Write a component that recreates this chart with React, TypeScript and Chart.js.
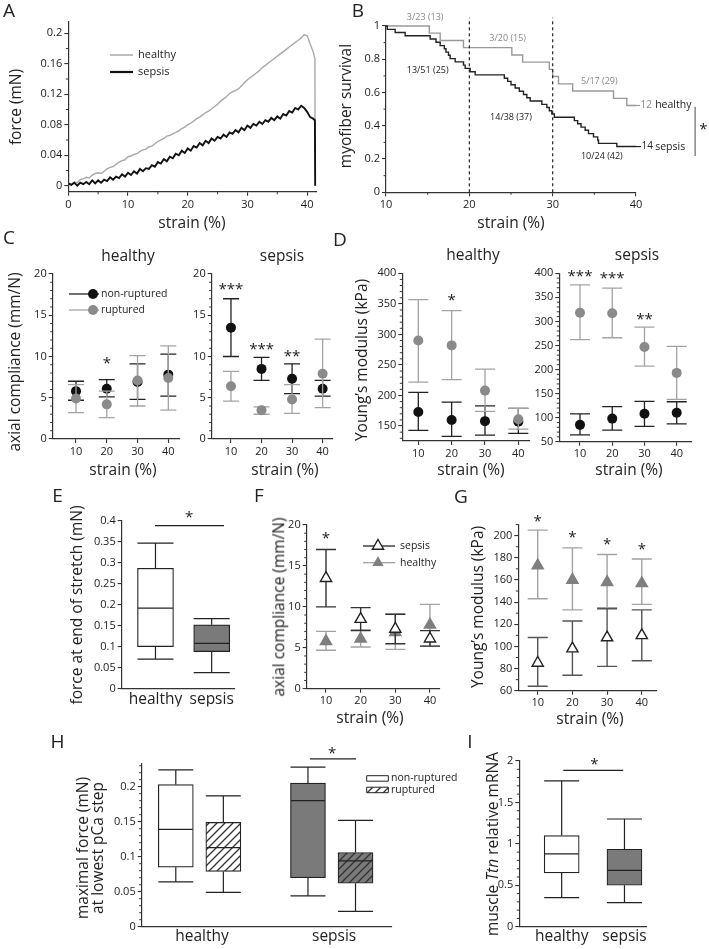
import React, { useEffect, useRef } from 'react';
import { Chart, registerables } from 'chart.js';
Chart.register(...registerables);

const W = 709, H = 949;
const FONT = '"Open Sans", "Noto Sans", sans-serif';
const INK = '#222';
const AXIS = '#333';
const YW = 40, XH = 18;

// ---------------- Panel A: force vs strain ----------------
const strainA = [0,0.5,1,1.5,2,2.5,3,3.5,4,4.5,5,5.5,6,6.5,7,7.5,8,8.5,9,9.5,10,10.5,11,11.5,12,12.5,13,13.5,14,14.5,15,15.5,16,16.5,17,17.5,18,18.5,19,19.5,20,20.5,21,21.5,22,22.5,23,23.5,24,24.5,25,25.5,26,26.5,27,27.5,28,28.5,29,29.5,30,30.5,31,31.5,32,32.5,33,33.5,34,34.5,35,35.5,36,36.5,37,37.5,38,38.5,39,39.5,40,40.5,41,41.3,41.35];
const forceHealthyA = [.003,.002,.005,.004,.008,.009,.011,.010,.014,.016,.017,.016,.019,.022,.024,.025,.028,.031,.033,.034,.038,.039,.041,.042,.045,.047,.048,.051,.052,.055,.058,.060,.062,.065,.066,.068,.070,.072,.075,.077,.080,.082,.085,.088,.090,.093,.096,.098,.101,.104,.107,.111,.114,.117,.121,.123,.125,.127,.131,.135,.139,.142,.145,.148,.151,.155,.158,.161,.164,.167,.170,.173,.176,.179,.182,.185,.188,.191,.194,.198,.197,.186,.176,.167,0];
const forceSepsisA = [.003,.001,.004,.000,.004,.002,.005,.002,.007,.003,.007,.004,.008,.006,.011,.008,.012,.010,.015,.012,.017,.014,.019,.016,.022,.019,.023,.022,.027,.025,.031,.029,.035,.032,.038,.036,.042,.040,.046,.043,.049,.046,.052,.050,.056,.053,.059,.056,.062,.059,.064,.062,.067,.064,.070,.068,.073,.070,.076,.073,.079,.076,.081,.079,.084,.081,.086,.084,.089,.086,.091,.088,.094,.092,.098,.096,.102,.100,.105,.102,.097,.090,.088,.086,0];
const yTicksA = [0, 0.04, 0.08, 0.12, 0.16, 0.2];

// ---------------- Panel B: survival ----------------
const healthyStrainB = [10, 15.2, 16.5, 19.3, 25.1, 26.4, 29.6, 30.0, 30.7, 32.4, 37.3, 38.9, 40];
const healthySurvB = [1, 0.957, 0.913, 0.870, 0.826, 0.783, 0.739, 0.696, 0.652, 0.609, 0.565, 0.522, 0.522];
const sepsisStrainB = [10, 10.15, 11.1, 12.3, 15.3, 16.0, 16.5, 17.0, 17.2, 17.5, 17.7, 18.3, 19.3, 19.5, 20.1, 20.7, 24.2, 24.6, 25.0, 25.5, 26.0, 26.5, 26.9, 27.3, 28.7, 29.3, 29.6, 29.9, 30.2, 32.6, 33.0, 33.4, 33.9, 34.3, 34.9, 35.4, 35.5, 37.7, 40];
const sepsisSurvB = [1, .980, .961, .941, .922, .902, .882, .863, .843, .824, .804, .784, .765, .745, .725, .706, .686, .667, .647, .627, .608, .588, .569, .549, .529, .510, .490, .471, .451, .431, .412, .392, .373, .353, .333, .314, .294, .275, .275];

// ---------------- Panels C/F: axial compliance ----------------
const strainCats = [10, 20, 30, 40];
const cHealthyNonRupt = [5.8, 6.1, 6.9, 7.8];
const cHealthyNonRuptLo = [4.7, 5.1, 4.8, 5.2];
const cHealthyNonRuptHi = [7.0, 7.2, 9.1, 10.3];
const cHealthyRupt = [4.9, 4.2, 7.1, 7.4];
const cHealthyRuptLo = [3.2, 2.6, 4.0, 3.5];
const cHealthyRuptHi = [6.6, 5.8, 10.1, 11.3];
const cSepsisNonRupt = [13.5, 8.5, 7.3, 6.1];
const cSepsisNonRuptLo = [10.0, 7.1, 5.5, 5.2];
const cSepsisNonRuptHi = [17.0, 9.9, 9.1, 7.1];
const cSepsisRupt = [6.4, 3.5, 4.8, 7.9];
const cSepsisRuptLo = [4.6, 3.0, 3.1, 3.8];
const cSepsisRuptHi = [8.2, 3.9, 6.6, 12.1];

// ---------------- Panels D/G: Young's modulus ----------------
const dHealthyNonRupt = [173, 160, 158, 157];
const dHealthyNonRuptLo = [143, 133, 135, 138];
const dHealthyNonRuptHi = [205, 189, 183, 179];
const dHealthyRupt = [290, 282, 208, 161];
const dHealthyRuptLo = [222, 226, 174, 145];
const dHealthyRuptHi = [357, 339, 243, 179];
const dSepsisNonRupt = [85, 98, 108, 110];
const dSepsisNonRuptLo = [64, 74, 82, 87];
const dSepsisNonRuptHi = [108, 123, 134, 133];
const dSepsisRupt = [318, 317, 247, 193];
const dSepsisRuptLo = [262, 266, 207, 138];
const dSepsisRuptHi = [376, 369, 288, 248];

// ---------------- Panel E: force at end of stretch (box) ----------------
const groupsE = ['healthy', 'sepsis'];
const eLow = [0.070, 0.038];
const eQ1 = [0.100, 0.088];
const eMed = [0.192, 0.108];
const eQ3 = [0.287, 0.152];
const eHigh = [0.347, 0.167];

// ---------------- Panel H: maximal force (box) ----------------
const groupsH = ['healthy', 'sepsis'];
const hLow = [0.064, 0.049, 0.044, 0.022];
const hQ1 = [0.085, 0.079, 0.070, 0.062];
const hMed = [0.139, 0.113, 0.180, 0.094];
const hQ3 = [0.203, 0.149, 0.205, 0.106];
const hHigh = [0.224, 0.187, 0.228, 0.152];

// ---------------- Panel I: Ttn mRNA (box) ----------------
const groupsI = ['healthy', 'sepsis'];
const iLow = [0.35, 0.29];
const iQ1 = [0.65, 0.50];
const iMed = [0.88, 0.68];
const iQ3 = [1.10, 0.935];
const iHigh = [1.76, 1.30];

// layout positions (not data)
const posE = [1, 2];
const posH = [1, 2, 3.78, 4.78];
const posI = [1, 2];

type Area = { x0: number; y0: number; x1: number; y1: number };
type Note = { x: number; y: number; text: string; color?: string; size?: number; align?: CanvasTextAlign; px?: boolean; dy?: number };
type Seg = { x1: number; y1: number; x2: number; y2: number; color?: string; width?: number; dash?: number[]; px?: boolean };
type Mark = { x: number; y: number; shape: 'circle' | 'triangle' | 'rect'; r?: number; w?: number; h?: number; fill?: any; stroke?: string; lw?: number; px?: boolean };
type Extras = { minorX?: number[]; minorY?: number[]; segs?: Seg[]; marks?: Mark[]; notes?: Note[] };

const pts = (xs: number[], ys: number[]) => xs.map((x, i) => ({ x, y: ys[i] }));
const steps = (a: number, b: number, s: number, skip: number[]) => {
  const out: number[] = [];
  for (let k = 0; a + k * s <= b + 1e-9; k++) {
    const v = Math.round((a + k * s) * 1e6) / 1e6;
    if (!skip.some((q) => Math.abs(q - v) < 1e-9)) out.push(v);
  }
  return out;
};
const fmt = (v: number) => String(Number(v.toFixed(4)));

function mkScale(axis: 'x' | 'y', min: number, max: number, ticks: number[], o: any = {}) {
  const labels: string[] | undefined = o.labels;
  return {
    type: 'linear', min, max, offset: false,
    afterBuildTicks: (s: any) => { s.ticks = ticks.map((v) => ({ value: v })); },
    afterFit: (s: any) => { if (axis === 'x') s.height = XH; else s.width = YW; },
    ticks: {
      autoSkip: false, maxRotation: 0, minRotation: 0,
      font: { family: FONT, size: o.size ?? 11 }, color: INK,
      padding: o.pad ?? 2,
      callback: (v: number) => {
        if (labels) { const i = ticks.findIndex((t) => Math.abs(t - v) < 1e-9); return i >= 0 ? labels[i] : ''; }
        return fmt(v);
      },
    },
    grid: { display: true, offset: false, drawOnChartArea: false, drawTicks: o.drawTicks ?? true, tickLength: 4, tickColor: AXIS, tickWidth: 1.1, color: AXIS, lineWidth: 1.1 },
    border: { display: true, color: AXIS, width: 1.2 },
  };
}

function extrasPlugin(ex: Extras) {
  return {
    id: 'extras',
    beforeDatasetDraw(chart: any, args: any) {
      const ds = chart.data.datasets[args.index];
      if (!ds.errLow) return;
      const meta = chart.getDatasetMeta(args.index);
      const ys = chart.scales.y, ctx = chart.ctx;
      ctx.save();
      ctx.strokeStyle = ds.errColor; ctx.lineWidth = ds.errWidth ?? 1.3;
      meta.data.forEach((p: any, i: number) => {
        const x = p.x, lo = ys.getPixelForValue(ds.errLow[i]), hi = ys.getPixelForValue(ds.errHigh[i]), c = ds.capHalf;
        ctx.beginPath();
        ctx.moveTo(x, lo); ctx.lineTo(x, hi);
        ctx.moveTo(x - c, lo); ctx.lineTo(x + c, lo);
        ctx.moveTo(x - c, hi); ctx.lineTo(x + c, hi);
        ctx.stroke();
      });
      ctx.restore();
    },
    afterDatasetDraw(chart: any, args: any) {
      const ds = chart.data.datasets[args.index];
      if (!ds.median) return;
      const meta = chart.getDatasetMeta(args.index);
      const ys = chart.scales.y, ctx = chart.ctx;
      ctx.save();
      ctx.strokeStyle = ds.borderColor; ctx.lineWidth = ds.borderWidth;
      meta.data.forEach((el: any, i: number) => {
        const { x, width } = el.getProps(['x', 'width'], true);
        const h = width / 2;
        const yLo = ys.getPixelForValue(ds.whiskLow[i]), yHi = ys.getPixelForValue(ds.whiskHigh[i]);
        const yQ1 = ys.getPixelForValue(ds.data[i].y[0]), yQ3 = ys.getPixelForValue(ds.data[i].y[1]);
        const yMed = ys.getPixelForValue(ds.median[i]);
        ctx.beginPath();
        ctx.moveTo(x, yQ3); ctx.lineTo(x, yHi); ctx.moveTo(x - h, yHi); ctx.lineTo(x + h, yHi);
        ctx.moveTo(x, yQ1); ctx.lineTo(x, yLo); ctx.moveTo(x - h, yLo); ctx.lineTo(x + h, yLo);
        ctx.moveTo(x - h + 0.6, yMed); ctx.lineTo(x + h - 0.6, yMed);
        ctx.stroke();
      });
      ctx.restore();
    },
    afterDraw(chart: any) {
      const ctx = chart.ctx, xs = chart.scales.x, ys = chart.scales.y, ca = chart.chartArea;
      const X = (v: number, px?: boolean) => (px ? v : xs.getPixelForValue(v));
      const Y = (v: number, px?: boolean) => (px ? v : ys.getPixelForValue(v));
      ctx.save();
      ctx.strokeStyle = AXIS; ctx.lineWidth = 1;
      (ex.minorX || []).forEach((v) => { const p = xs.getPixelForValue(v); ctx.beginPath(); ctx.moveTo(p, ca.bottom); ctx.lineTo(p, ca.bottom + 2.5); ctx.stroke(); });
      (ex.minorY || []).forEach((v) => { const p = ys.getPixelForValue(v); ctx.beginPath(); ctx.moveTo(ca.left, p); ctx.lineTo(ca.left - 2.5, p); ctx.stroke(); });
      (ex.segs || []).forEach((s) => {
        ctx.beginPath();
        ctx.strokeStyle = s.color ?? INK; ctx.lineWidth = s.width ?? 1.2;
        ctx.setLineDash(s.dash ?? []);
        ctx.moveTo(X(s.x1, s.px), Y(s.y1, s.px)); ctx.lineTo(X(s.x2, s.px), Y(s.y2, s.px));
        ctx.stroke();
      });
      ctx.setLineDash([]);
      (ex.marks || []).forEach((m) => {
        const x = X(m.x, m.px), y = Y(m.y, m.px);
        ctx.beginPath();
        if (m.shape === 'circle') ctx.arc(x, y, m.r ?? 5, 0, Math.PI * 2);
        else if (m.shape === 'triangle') {
          const r = m.r ?? 6;
          for (let k = 0; k < 3; k++) {
            const a = (k * 2 * Math.PI) / 3;
            const px = x + Math.sin(a) * r, py = y - Math.cos(a) * r;
            if (k === 0) ctx.moveTo(px, py); else ctx.lineTo(px, py);
          }
          ctx.closePath();
        } else ctx.rect(x, y, m.w ?? 20, m.h ?? 6);
        if (m.fill) { ctx.fillStyle = m.fill; ctx.fill(); }
        if (m.stroke) { ctx.strokeStyle = m.stroke; ctx.lineWidth = m.lw ?? 1.2; ctx.stroke(); }
      });
      (ex.notes || []).forEach((n) => {
        ctx.font = `${n.size ?? 11}px ${FONT}`;
        ctx.fillStyle = n.color ?? INK;
        ctx.textAlign = n.align ?? 'center';
        ctx.textBaseline = 'middle';
        ctx.fillText(n.text, X(n.x, n.px), Y(n.y, n.px) + (n.dy ?? 0));
      });
      ctx.restore();
    },
  };
}

function cfg(area: Area, type: string, datasets: any[], x: any, y: any, ex: Extras) {
  return {
    type,
    data: { datasets },
    options: {
      animation: false, responsive: false, maintainAspectRatio: false, events: [],
      layout: { padding: { left: area.x0 - YW, top: area.y0, right: W - area.x1, bottom: H - area.y1 - XH } },
      scales: { x, y },
      plugins: { legend: { display: false }, tooltip: { enabled: false }, title: { display: false } },
    },
    plugins: [extrasPlugin(ex)],
  };
}

function dotSet(ys: number[], lo: number[], hi: number[], color: string, errColor: string, capHalf: number, order: number) {
  return {
    data: pts(strainCats, ys), errLow: lo, errHigh: hi, errColor, capHalf, order,
    pointRadius: 5, pointStyle: 'circle', backgroundColor: color, pointBackgroundColor: color,
    pointBorderWidth: 0, borderWidth: 0, showLine: false, clip: false,
  };
}
function triSet(ys: number[], lo: number[], hi: number[], fill: string, stroke: string, errColor: string, order: number) {
  return {
    data: pts(strainCats, ys), errLow: lo, errHigh: hi, errColor, capHalf: 10, errWidth: 1.4, order,
    pointRadius: 6.5, pointStyle: 'triangle', backgroundColor: fill, pointBackgroundColor: fill,
    pointBorderColor: stroke, borderColor: stroke, pointBorderWidth: 1.4, showLine: false, clip: false,
  };
}
function boxSet(pos: number[], lo: number[], q1: number[], med: number[], q3: number[], hi: number[], fills: any[], thick: number) {
  return {
    data: pos.map((x, i) => ({ x, y: [q1[i], q3[i]] })), whiskLow: lo, whiskHigh: hi, median: med,
    backgroundColor: fills, borderColor: '#222', borderWidth: 1.2, borderSkipped: false, barThickness: thick, clip: false,
  };
}

function hatch(bg: string) {
  const c = document.createElement('canvas');
  c.width = 8; c.height = 8;
  const g = c.getContext('2d')!;
  g.fillStyle = bg; g.fillRect(0, 0, 8, 8);
  g.strokeStyle = '#333'; g.lineWidth = 1.3;
  g.beginPath();
  g.moveTo(-1, 9); g.lineTo(9, -1);
  g.moveTo(-1, 1); g.lineTo(1, -1);
  g.moveTo(7, 9); g.lineTo(9, 7);
  g.stroke();
  return g.createPattern(c, 'repeat');
}

const GL = '#a3a3a3';   // gray error bars / lines
const GD = '#8a8a8a';   // gray dots
const BOXG = '#7a7a7a'; // gray box fill
const cMinor = steps(0, 20, 1, [0, 5, 10, 15, 20]);

function buildConfigs(): any[] {
  const hWhite = hatch('#ffffff');
  const hGray = hatch(BOXG);
  const out: any[] = [];

  // A
  out.push(cfg({ x0: 68.3, y0: 21.9, x1: 316.7, y1: 191.8 }, 'line', [
    { data: pts(strainA, forceHealthyA), borderColor: '#a8a8a8', borderWidth: 1.4, pointRadius: 0, tension: 0, order: 1 },
    { data: pts(strainA, forceSepsisA), borderColor: '#111', borderWidth: 1.9, pointRadius: 0, tension: 0, order: 0 },
  ], mkScale('x', 0, 41.6, [0, 10, 20, 30, 40]), mkScale('y', -0.008, 0.215, yTicksA), {
    minorX: [5, 15, 25, 35], minorY: [0.02, 0.06, 0.1, 0.14, 0.18],
    segs: [
      { x1: 110, y1: 55, x2: 133, y2: 55, color: '#a8a8a8', width: 1.5, px: true },
      { x1: 110, y1: 72, x2: 133, y2: 72, color: '#111', width: 2.2, px: true },
    ],
    notes: [
      { x: 138, y: 55, text: 'healthy', size: 11, align: 'left', px: true },
      { x: 138, y: 72, text: 'sepsis', size: 11, align: 'left', px: true },
    ],
  }));

  // B
  out.push(cfg({ x0: 386, y0: 26, x1: 636, y1: 192.3 }, 'line', [
    { data: pts(healthyStrainB, healthySurvB), stepped: 'before', borderColor: '#999', borderWidth: 1.4, pointRadius: 0, clip: false, order: 1 },
    { data: pts(sepsisStrainB, sepsisSurvB), stepped: 'before', borderColor: '#222', borderWidth: 1.4, pointRadius: 0, clip: false, order: 0 },
  ], mkScale('x', 10, 40, [10, 20, 30, 40]), mkScale('y', 0, 1, [0, 0.2, 0.4, 0.6, 0.8, 1]), {
    minorX: [15, 25, 35], minorY: [0.1, 0.3, 0.5, 0.7, 0.9],
    segs: [
      { x1: 20, y1: 0, x2: 20, y2: 1.05, dash: [3, 3], color: '#222', width: 1.2 },
      { x1: 30, y1: 0, x2: 30, y2: 1.05, dash: [3, 3], color: '#222', width: 1.2 },
      { x1: 40, y1: 0.522, x2: 40.5, y2: 0.522, color: '#999', width: 1.2 },
      { x1: 40, y1: 0.275, x2: 40.6, y2: 0.275, color: '#222', width: 1.2 },
      { x1: 47.1, y1: 0.515, x2: 47.1, y2: 0.218, color: '#888', width: 1.5 },
    ],
    notes: [
      { x: 14.7, y: 1.05, text: '3/23 (13)', color: '#888', size: 9 },
      { x: 24.6, y: 0.926, text: '3/20 (15)', color: '#888', size: 9 },
      { x: 35.6, y: 0.665, text: '5/17 (29)', color: '#888', size: 9 },
      { x: 15.0, y: 0.735, text: '13/51 (25)', size: 9 },
      { x: 25.0, y: 0.45, text: '14/38 (37)', size: 9 },
      { x: 35.9, y: 0.218, text: '10/24 (42)', size: 9 },
      { x: 40.55, y: 0.522, text: '12', color: '#888', size: 10, align: 'left' },
      { x: 42.3, y: 0.522, text: 'healthy', size: 10.5, align: 'left' },
      { x: 40.65, y: 0.275, text: '14', size: 10, align: 'left' },
      { x: 42.3, y: 0.275, text: 'sepsis', size: 10.5, align: 'left' },
      { x: 48.1, y: 0.40, text: '*', size: 15, dy: 4 },
    ],
  }));

  // C healthy
  out.push(cfg({ x0: 52.7, y0: 274, x1: 180, y1: 439 }, 'scatter', [
    dotSet(cHealthyRupt, cHealthyRuptLo, cHealthyRuptHi, GD, GL, 8, 0),
    dotSet(cHealthyNonRupt, cHealthyNonRuptLo, cHealthyNonRuptHi, '#111', '#222', 8, 1),
  ], mkScale('x', 2.43, 43.8, strainCats), mkScale('y', 0, 20, [0, 5, 10, 15, 20]), {
    minorY: cMinor,
    segs: [
      { x1: 69, y1: 294, x2: 99, y2: 294, color: '#222', width: 1.3, px: true },
      { x1: 69, y1: 310, x2: 99, y2: 310, color: GL, width: 1.3, px: true },
    ],
    marks: [
      { x: 93, y: 294, shape: 'circle', r: 5, fill: '#111', px: true },
      { x: 93, y: 310, shape: 'circle', r: 5, fill: GD, px: true },
    ],
    notes: [
      { x: 101, y: 294, text: 'non-ruptured', size: 10.5, align: 'left', px: true },
      { x: 101, y: 310, text: 'ruptured', size: 10.5, align: 'left', px: true },
      { x: 20, y: 9.6, text: '*', size: 15, dy: 4 },
    ],
  }));

  // C sepsis
  out.push(cfg({ x0: 211.7, y0: 274, x1: 333, y1: 439 }, 'scatter', [
    dotSet(cSepsisRupt, cSepsisRuptLo, cSepsisRuptHi, GD, GL, 8, 0),
    dotSet(cSepsisNonRupt, cSepsisNonRuptLo, cSepsisNonRuptHi, '#111', '#222', 8, 1),
  ], mkScale('x', 3.69, 43.4, strainCats), mkScale('y', 0, 20, [0, 5, 10, 15, 20]), {
    minorY: cMinor,
    notes: [
      { x: 10, y: 18.6, text: '***', size: 15, dy: 4 },
      { x: 20, y: 11.3, text: '***', size: 15, dy: 4 },
      { x: 30, y: 10.4, text: '**', size: 15, dy: 4 },
    ],
  }));

  // D healthy
  out.push(cfg({ x0: 402.3, y0: 273.3, x1: 530, y1: 441 }, 'scatter', [
    dotSet(dHealthyRupt, dHealthyRuptLo, dHealthyRuptHi, GD, GL, 10, 0),
    dotSet(dHealthyNonRupt, dHealthyNonRuptLo, dHealthyNonRuptHi, '#111', '#222', 10, 1),
  ], mkScale('x', 5.2, 43.5, strainCats), mkScale('y', 125.5, 400, [150, 200, 250, 300, 350, 400]), {
    minorY: steps(130, 400, 10, [150, 200, 250, 300, 350, 400]),
    notes: [{ x: 20, y: 362, text: '*', size: 15, dy: 4 }],
  }));

  // D sepsis
  out.push(cfg({ x0: 559.3, y0: 273.3, x1: 691.7, y1: 441.7 }, 'scatter', [
    dotSet(dSepsisRupt, dSepsisRuptLo, dSepsisRuptHi, GD, GL, 10, 0),
    dotSet(dSepsisNonRupt, dSepsisNonRuptLo, dSepsisNonRuptHi, '#111', '#222', 10, 1),
  ], mkScale('x', 3.58, 44.65, strainCats), mkScale('y', 50, 400, [50, 100, 150, 200, 250, 300, 350, 400]), {
    minorY: steps(50, 400, 10, [50, 100, 150, 200, 250, 300, 350, 400]),
    notes: [
      { x: 10, y: 401, text: '***', size: 15, dy: 4 },
      { x: 20, y: 398, text: '***', size: 15, dy: 4 },
      { x: 30, y: 312, text: '**', size: 15, dy: 4 },
    ],
  }));

  // E
  out.push(cfg({ x0: 121.7, y0: 521, x1: 235, y1: 688.5 }, 'bar', [
    boxSet(posE, eLow, eQ1, eMed, eQ3, eHigh, ['#ffffff', BOXG], 36),
  ], mkScale('x', 0.399, 2.415, posE, { labels: groupsE, size: 15.5, drawTicks: false, pad: 2 }),
  mkScale('y', 0, 0.4, [0, 0.05, 0.1, 0.15, 0.2, 0.25, 0.3, 0.35, 0.4]), {
    segs: [{ x1: 0.99, y1: 0.389, x2: 2.22, y2: 0.389, color: '#222', width: 1.2 }],
    notes: [{ x: 1.6, y: 0.418, text: '*', size: 15, dy: 4 }],
  }));

  // F
  out.push(cfg({ x0: 306.7, y0: 525, x1: 440, y1: 688.7 }, 'scatter', [
    triSet(cSepsisNonRupt, cSepsisNonRuptLo, cSepsisNonRuptHi, '#ffffff', '#222', '#333', 0),
    triSet(cHealthyNonRupt, cHealthyNonRuptLo, cHealthyNonRuptHi, '#7f7f7f', '#7f7f7f', GL, 1),
  ], mkScale('x', 4.43, 42.9, strainCats), mkScale('y', 0, 20, [0, 5, 10, 15, 20]), {
    minorY: cMinor,
    segs: [
      { x1: 363, y1: 546, x2: 395, y2: 546, color: '#222', width: 1.3, px: true },
      { x1: 363, y1: 562.7, x2: 395, y2: 562.7, color: GL, width: 1.3, px: true },
    ],
    marks: [
      { x: 378, y: 546, shape: 'triangle', r: 6.5, fill: '#fff', stroke: '#222', lw: 1.4, px: true },
      { x: 378, y: 562.7, shape: 'triangle', r: 6.5, fill: '#7f7f7f', px: true },
    ],
    notes: [
      { x: 400, y: 546, text: 'sepsis', size: 10.5, align: 'left', px: true },
      { x: 400, y: 562.7, text: 'healthy', size: 10.5, align: 'left', px: true },
      { x: 10, y: 18.8, text: '*', size: 15, dy: 4 },
    ],
  }));

  // G
  out.push(cfg({ x0: 518.3, y0: 524.6, x1: 656.7, y1: 690.7 }, 'scatter', [
    triSet(dSepsisNonRupt, dSepsisNonRuptLo, dSepsisNonRuptHi, '#ffffff', '#222', '#555', 0),
    triSet(dHealthyNonRupt, dHealthyNonRuptLo, dHealthyNonRuptHi, '#7f7f7f', '#7f7f7f', GL, 1),
  ], mkScale('x', 4.4, 44.3, strainCats), mkScale('y', 60, 210, [60, 80, 100, 120, 140, 160, 180, 200]), {
    minorY: steps(70, 210, 10, [60, 80, 100, 120, 140, 160, 180, 200]),
    notes: [
      { x: 10, y: 216.6, text: '*', size: 15, dy: 4 },
      { x: 20, y: 201.5, text: '*', size: 15, dy: 4 },
      { x: 30, y: 195.3, text: '*', size: 15, dy: 4 },
      { x: 40, y: 191.3, text: '*', size: 15, dy: 4 },
    ],
  }));

  // H
  out.push(cfg({ x0: 141.7, y0: 763.3, x1: 391.7, y1: 926.7 }, 'bar', [
    boxSet(posH, hLow, hQ1, hMed, hQ3, hHigh, ['#ffffff', hWhite, BOXG, hGray], 35),
  ], mkScale('x', 0.283, 5.541, [1.55, 4.33], { labels: groupsH, size: 15.5, drawTicks: false, pad: 1 }),
  mkScale('y', 0, 0.2334, [0, 0.05, 0.1, 0.15, 0.2]), {
    minorY: steps(0, 0.23, 0.01, [0, 0.05, 0.1, 0.15, 0.2]),
    segs: [{ x1: 3.823, y1: 0.2396, x2: 4.79, y2: 0.2396, color: '#222', width: 1.2 }],
    marks: [
      { x: 366.7, y: 775.7, shape: 'rect', w: 21.6, h: 5.5, fill: '#fff', stroke: '#222', lw: 1, px: true },
      { x: 366.7, y: 787.2, shape: 'rect', w: 21.6, h: 5.5, fill: hWhite, stroke: '#222', lw: 1, px: true },
    ],
    notes: [
      { x: 391, y: 778.3, text: 'non-ruptured', size: 10.5, align: 'left', px: true },
      { x: 391, y: 790, text: 'ruptured', size: 10.5, align: 'left', px: true },
      { x: 4.286, y: 0.2534, text: '*', size: 15, dy: 4 },
    ],
  }));

  // I
  out.push(cfg({ x0: 519.3, y0: 761, x1: 646.7, y1: 926.7 }, 'bar', [
    boxSet(posI, iLow, iQ1, iMed, iQ3, iHigh, ['#ffffff', BOXG], 35),
  ], mkScale('x', 0.325, 2.354, posI, { labels: groupsI, size: 15.5, drawTicks: false, pad: 1 }),
  mkScale('y', 0, 2, [0, 0.5, 1, 1.5, 2]), {
    minorY: steps(0, 2, 0.1, [0, 0.5, 1, 1.5, 2]),
    segs: [{ x1: 1.025, y1: 1.887, x2: 1.98, y2: 1.887, color: '#222', width: 1.2 }],
    notes: [{ x: 1.52, y: 2.008, text: '*', size: 15, dy: 4 }],
  }));

  return out;
}

type Lbl = { t: React.ReactNode; x: number; y: number; s: number; r?: boolean };
const TS = 15.5;
const LABELS: Lbl[] = [
  { t: 'A', x: 9, y: 10, s: 19 },
  { t: 'B', x: 358, y: 10, s: 19 },
  { t: 'C', x: 9, y: 237, s: 19 },
  { t: 'D', x: 340, y: 239, s: 19 },
  { t: 'E', x: 57.5, y: 495, s: 19 },
  { t: 'F', x: 259, y: 495, s: 19 },
  { t: 'G', x: 461, y: 496, s: 19 },
  { t: 'H', x: 57.5, y: 741, s: 19 },
  { t: 'I', x: 470, y: 741, s: 19 },
  { t: 'strain (%)', x: 192, y: 223, s: TS },
  { t: 'strain (%)', x: 511, y: 223, s: TS },
  { t: 'force (mN)', x: 16, y: 107, s: TS, r: true },
  { t: 'myofiber survival', x: 346, y: 106, s: TS, r: true },
  { t: 'healthy', x: 128, y: 256, s: TS },
  { t: 'sepsis', x: 282, y: 256, s: TS },
  { t: 'healthy', x: 473, y: 255, s: TS },
  { t: 'sepsis', x: 637, y: 255, s: TS },
  { t: 'axial compliance (mm/N)', x: 15, y: 362, s: TS, r: true },
  { t: 'Young\u2019s modulus (kPa)', x: 362, y: 360, s: TS, r: true },
  { t: 'strain (%)', x: 123, y: 470, s: TS },
  { t: 'strain (%)', x: 285, y: 470, s: TS },
  { t: 'strain (%)', x: 471, y: 470, s: TS },
  { t: 'strain (%)', x: 629, y: 470, s: TS },
  { t: 'force at end of stretch (mN)', x: 77, y: 605, s: TS, r: true },
  { t: 'axial compliance (mm/N)', x: 279, y: 607, s: TS, r: true },
  { t: 'Young\u2019s modulus (kPa)', x: 478, y: 607, s: TS, r: true },
  { t: 'strain (%)', x: 370, y: 718, s: TS },
  { t: 'strain (%)', x: 590, y: 719, s: TS },
  { t: 'maximal force (mN)', x: 83, y: 848, s: TS, r: true },
  { t: 'at lowest pCa step', x: 98, y: 848, s: TS, r: true },
  { t: <>muscle <i>Ttn</i> relative mRNA</>, x: 493, y: 844, s: TS, r: true },
];

export default function App() {
  const refs = useRef<(HTMLCanvasElement | null)[]>([]);
  const N = 11;
  useEffect(() => {
    const configs = buildConfigs();
    const charts = configs.map((c, i) => new Chart(refs.current[i] as HTMLCanvasElement, c as any));
    return () => charts.forEach((c) => c.destroy());
  }, []);
  return (
    <div style={{ position: 'absolute', left: 0, top: 0, width: W, height: H, background: '#fff', overflow: 'hidden' }}>
      {Array.from({ length: N }).map((_, i) => (
        <canvas key={i} ref={(el) => { refs.current[i] = el; }} width={W} height={H}
          style={{ position: 'absolute', left: 0, top: 0, width: W, height: H }} />
      ))}
      {LABELS.map((l, i) => (
        <div key={'l' + i} style={{
          position: 'absolute', left: l.x, top: l.y, fontFamily: FONT, fontSize: l.s, color: INK,
          lineHeight: 1, whiteSpace: 'nowrap',
          transform: `translate(-50%, -50%)${l.r ? ' rotate(-90deg)' : ''}`,
        }}>{l.t}</div>
      ))}
    </div>
  );
}
